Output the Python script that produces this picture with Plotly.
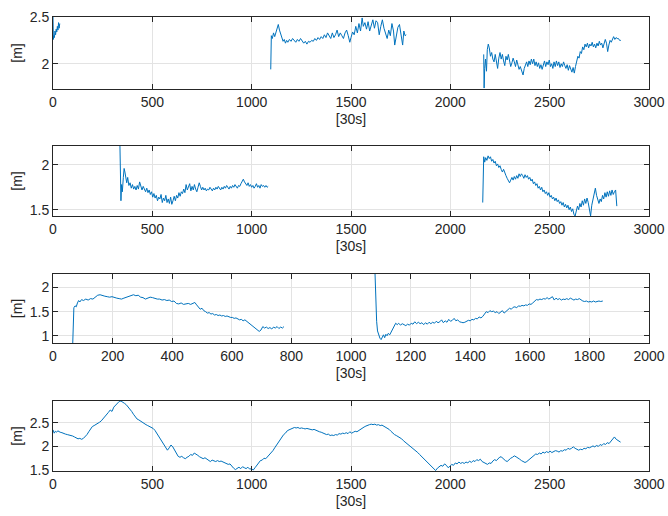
import plotly.graph_objects as go

# ---- subplot 1 (three segments, gaps as None)
s1_x = [0, 2, 4, 7, 10, 13, 16, 19, 22, 25, 28, 31, 34, 36,
        1096, 1099, 1104, 1110, 1116, 1122, 1128, 1134, 1140, 1146, 1152, 1158, 1164, 1170, 1176, 1182,
        1190, 1198, 1206, 1214, 1222, 1230, 1238, 1246, 1254, 1262, 1270, 1278, 1286, 1294, 1302, 1310,
        1318, 1326, 1334, 1342, 1350, 1358, 1366, 1374, 1382, 1390, 1398, 1406, 1414, 1422, 1430, 1438,
        1446, 1454, 1462, 1470, 1478, 1486, 1494, 1500, 1508, 1516, 1524, 1532, 1540, 1548, 1556, 1562,
        1570, 1578, 1586, 1594, 1602, 1610, 1618, 1626, 1634, 1642, 1650, 1658, 1666, 1674, 1682, 1690,
        1698, 1706, 1714, 1720, 1728, 1736, 1744, 1752, 1760, 1766, 1772, 1778, 1780,
        2168, 2170, 2173, 2177, 2182, 2186, 2191, 2196, 2202, 2208, 2214, 2220, 2226, 2232, 2238, 2244,
        2250, 2256, 2262, 2268, 2274, 2280, 2286, 2292, 2298, 2304, 2310, 2316, 2322, 2328, 2334, 2340,
        2346, 2352, 2358, 2366, 2372, 2378, 2384, 2390, 2396, 2402, 2408, 2414, 2420, 2426, 2432, 2438,
        2444, 2450, 2456, 2462, 2468, 2474, 2480, 2486, 2492, 2498, 2504, 2510, 2516, 2522, 2528, 2534,
        2540, 2546, 2552, 2558, 2564, 2570, 2576, 2582, 2588, 2594, 2600, 2606, 2612, 2618, 2624, 2630,
        2636, 2642, 2648, 2654, 2660, 2666, 2672, 2678, 2684, 2690, 2696, 2702, 2708, 2714, 2720, 2726,
        2732, 2738, 2744, 2750, 2756, 2762, 2768, 2774, 2780, 2786, 2792, 2798, 2804, 2810, 2816, 2822,
        2828, 2834, 2840, 2846, 2852, 2858]
s1_y = [2.50, 2.26, 2.30, 2.28, 2.35, 2.31, 2.37, 2.34, 2.40, 2.36, 2.44, 2.38, 2.43, None,
        1.94, 2.30, 2.27, 2.33, 2.29, 2.34, 2.38, 2.42, 2.36, 2.31, 2.27, 2.24, 2.26, 2.22, 2.25, 2.23,
        2.26, 2.24, 2.27, 2.25, 2.23, 2.26, 2.24, 2.27, 2.25, 2.22, 2.24, 2.21, 2.24, 2.23, 2.25, 2.24,
        2.27, 2.25, 2.28, 2.26, 2.29, 2.27, 2.31, 2.28, 2.33, 2.30, 2.27, 2.33, 2.28, 2.31, 2.36, 2.29,
        2.33, 2.30, 2.27, 2.33, 2.36, 2.30, 2.23, 2.28, 2.34, 2.31, 2.40, 2.33, 2.43, 2.35, 2.49, 2.40,
        2.44, 2.37, 2.45, 2.35, 2.42, 2.47, 2.38, 2.46, 2.44, 2.31, 2.40, 2.47, 2.38, 2.33, 2.27, 2.36,
        2.30, 2.43, 2.35, 2.20, 2.32, 2.39, 2.42, 2.28, 2.20, 2.35, 2.30, 2.31, None,
        2.10, 1.74, 1.95, 2.05, 1.92, 2.15, 2.21, 2.17, 2.08, 2.12, 2.05, 2.02, 2.10, 2.03, 1.95, 2.06,
        2.12, 2.05, 2.10, 2.03, 1.98, 2.08, 2.04, 2.10, 2.03, 1.97, 2.01, 2.06, 2.02, 1.97, 2.04, 2.00,
        1.94, 1.97, 1.92, 1.88, 1.95, 1.99, 2.02, 1.97, 2.03, 1.99, 2.05, 2.00, 2.05, 1.98, 2.02, 1.97,
        2.01, 1.95, 1.99, 1.94, 1.98, 2.03, 1.97, 2.02, 1.99, 2.04, 1.97, 2.00, 1.95, 2.02, 1.97, 2.03,
        1.98, 2.02, 1.96, 2.00, 1.97, 2.02, 1.98, 1.95, 1.99, 1.93, 1.98, 1.95, 1.91, 1.96, 1.90, 1.97,
        2.03, 2.08, 2.06, 2.13, 2.11, 2.18, 2.15, 2.21, 2.18, 2.22, 2.17, 2.21, 2.19, 2.23, 2.18, 2.21,
        2.17, 2.22, 2.19, 2.24, 2.20, 2.22, 2.17, 2.22, 2.26, 2.22, 2.13, 2.20, 2.25, 2.23, 2.27, 2.29,
        2.26, 2.28, 2.27, 2.27, 2.25, 2.25]

# ---- subplot 2
s2_x = [337, 339, 342, 345, 349, 354, 358, 362, 366, 371, 376, 382, 388, 394, 400, 406,
        412, 418, 424, 430, 436, 442, 448, 454, 460, 466, 472, 478, 484, 490, 496, 502,
        508, 514, 520, 526, 532, 538, 544, 550, 556, 562, 568, 574, 580, 586, 592, 598,
        604, 610, 616, 622, 628, 634, 640, 646, 652, 658, 664, 670, 676, 682, 688, 694,
        700, 706, 712, 718, 724, 730, 736, 742, 748, 754, 760, 766, 772, 778, 784, 790,
        796, 802, 808, 814, 820, 826, 832, 838, 844, 850, 856, 862, 868, 874, 880, 886,
        892, 898, 904, 910, 916, 922, 928, 934, 940, 946, 952, 958, 964, 970, 976, 982,
        988, 994, 1000, 1006, 1012, 1018, 1024, 1030, 1036, 1042, 1048, 1054, 1060, 1066, 1072, 1078,
        1083, 1085,
        2163, 2165, 2168, 2173, 2178, 2184, 2190, 2196, 2202, 2208, 2214, 2220, 2226, 2232, 2238, 2244,
        2250, 2256, 2262, 2268, 2274, 2280, 2286, 2292, 2298, 2304, 2310, 2316, 2322, 2328, 2334, 2340,
        2346, 2352, 2358, 2364, 2370, 2376, 2382, 2388, 2394, 2400, 2406, 2412, 2418, 2424, 2430, 2436,
        2442, 2448, 2454, 2460, 2466, 2472, 2478, 2484, 2490, 2496, 2502, 2508, 2514, 2520, 2526, 2532,
        2538, 2544, 2550, 2556, 2562, 2568, 2574, 2580, 2586, 2592, 2598, 2604, 2610, 2616, 2622, 2628,
        2634, 2640, 2646, 2652, 2658, 2664, 2670, 2676, 2682, 2688, 2694, 2700, 2706, 2712, 2718, 2724,
        2730, 2736, 2742, 2748, 2754, 2760, 2766, 2772, 2778, 2784, 2790, 2796, 2802, 2808, 2814, 2820,
        2826, 2832, 2838]
s2_y = [2.21, 1.62, 1.60, 1.78, 1.70, 1.86, 1.96, 1.92, 1.84, 1.80, 1.86, 1.77, 1.80, 1.74, 1.78, 1.73,
        1.76, 1.72, 1.77, 1.73, 1.81, 1.75, 1.72, 1.76, 1.73, 1.70, 1.74, 1.69, 1.72, 1.67, 1.70, 1.64,
        1.68, 1.63, 1.66, 1.60, 1.64, 1.62, 1.67, 1.58, 1.63, 1.60, 1.66, 1.58, 1.62, 1.57, 1.64, 1.56,
        1.60, 1.65, 1.60, 1.66, 1.63, 1.69, 1.65, 1.70, 1.68, 1.73, 1.69, 1.78, 1.72, 1.76, 1.79, 1.71,
        1.76, 1.72, 1.78, 1.73, 1.70, 1.75, 1.80, 1.76, 1.72, 1.75, 1.72, 1.74, 1.71, 1.73, 1.72, 1.75,
        1.73, 1.71, 1.74, 1.72, 1.75, 1.73, 1.76, 1.74, 1.72, 1.75, 1.73, 1.76, 1.74, 1.77, 1.75, 1.73,
        1.76, 1.74, 1.77, 1.75, 1.78, 1.76, 1.74, 1.77, 1.76, 1.79, 1.81, 1.84, 1.81, 1.79, 1.77, 1.80,
        1.76, 1.78, 1.75, 1.77, 1.74, 1.76, 1.79, 1.75, 1.77, 1.74, 1.78, 1.76, 1.77, 1.75, 1.77, 1.75,
        1.76, None,
        1.58, 2.00, 2.09, 2.03, 2.08, 2.05, 2.10, 2.07, 2.09, 2.04, 2.06, 2.02, 2.04, 1.99, 2.01, 1.97,
        1.99, 1.95, 1.92, 1.95, 1.90, 1.88, 1.85, 1.82, 1.80, 1.83, 1.86, 1.83, 1.87, 1.84, 1.88, 1.85,
        1.90, 1.87, 1.90, 1.88, 1.85, 1.89, 1.86, 1.88, 1.84, 1.86, 1.82, 1.84, 1.79, 1.81, 1.77, 1.79,
        1.74, 1.76, 1.72, 1.75, 1.70, 1.72, 1.68, 1.70, 1.66, 1.69, 1.64, 1.66, 1.62, 1.64, 1.60, 1.63,
        1.59, 1.61, 1.57, 1.59, 1.55, 1.58, 1.53, 1.56, 1.52, 1.55, 1.50, 1.53, 1.48, 1.51, 1.45, 1.43,
        1.49, 1.54, 1.50, 1.57, 1.53, 1.60, 1.55, 1.62, 1.57, 1.63, 1.58, 1.52, 1.43, 1.55, 1.62, 1.68,
        1.74, 1.66, 1.60, 1.57, 1.62, 1.59, 1.66, 1.62, 1.69, 1.64, 1.70, 1.65, 1.71, 1.66, 1.72, 1.67,
        1.70, 1.72, 1.54]

# ---- subplot 3
s3_x = [66, 68, 70, 74, 78, 82, 86, 90, 96, 102, 110, 118, 126, 134, 142, 150,
        158, 166, 174, 182, 190, 198, 206, 214, 222, 230, 238, 246, 254, 262, 270, 278,
        286, 294, 302, 310, 318, 326, 334, 342, 350, 358, 366, 374, 382, 390, 398, 406,
        414, 422, 430, 438, 446, 454, 462, 470, 476, 482, 488, 494, 500, 506, 512, 518,
        524, 530, 536, 542, 548, 554, 560, 566, 572, 578, 584, 590, 596, 602, 608, 614,
        620, 626, 632, 638, 644, 650, 656, 662, 668, 674, 680, 686, 692, 698, 704, 710,
        716, 722, 728, 734, 740, 746, 752, 758, 764, 770, 775, 777,
        1080, 1083, 1086, 1089, 1093, 1097, 1101, 1105, 1109, 1113, 1117, 1121, 1125, 1130, 1135, 1140,
        1145, 1150, 1155, 1160, 1166, 1172, 1178, 1184, 1190, 1196, 1202, 1208, 1214, 1220, 1226, 1232,
        1238, 1244, 1250, 1256, 1262, 1268, 1274, 1280, 1286, 1292, 1298, 1304, 1310, 1316, 1322, 1328,
        1334, 1340, 1346, 1352, 1358, 1364, 1370, 1376, 1382, 1388, 1394, 1400, 1406, 1412, 1418, 1424,
        1430, 1436, 1442, 1448, 1454, 1460, 1466, 1472, 1478, 1484, 1490, 1496, 1502, 1508, 1514, 1520,
        1526, 1532, 1538, 1544, 1550, 1556, 1562, 1568, 1574, 1580, 1586, 1592, 1598, 1604, 1610, 1616,
        1622, 1628, 1634, 1640, 1646, 1652, 1658, 1664, 1670, 1676, 1682, 1688, 1694, 1700, 1706, 1712,
        1718, 1724, 1730, 1736, 1742, 1748, 1754, 1760, 1766, 1772, 1778, 1784, 1790, 1796, 1802, 1808,
        1814, 1820, 1826, 1832, 1838, 1845]
s3_y = [0.80, 1.35, 1.58, 1.62, 1.60, 1.68, 1.73, 1.70, 1.75, 1.73, 1.76, 1.74, 1.77, 1.76, 1.80, 1.84,
        1.85, 1.83, 1.82, 1.81, 1.80, 1.81, 1.79, 1.78, 1.77, 1.76, 1.78, 1.80, 1.82, 1.84, 1.85, 1.83,
        1.84, 1.80, 1.79, 1.76, 1.78, 1.80, 1.79, 1.77, 1.76, 1.76, 1.74, 1.75, 1.73, 1.74, 1.71, 1.72,
        1.67, 1.66, 1.68, 1.65, 1.66, 1.67, 1.65, 1.68, 1.69, 1.64, 1.60, 1.55, 1.57, 1.52, 1.50, 1.47,
        1.48, 1.45, 1.46, 1.43, 1.44, 1.42, 1.43, 1.41, 1.42, 1.40, 1.41, 1.39, 1.38, 1.38, 1.36, 1.37,
        1.35, 1.33, 1.34, 1.31, 1.33, 1.30, 1.27, 1.24, 1.20, 1.18, 1.14, 1.12, 1.09, 1.12, 1.19, 1.16,
        1.18, 1.15, 1.17, 1.14, 1.18, 1.16, 1.19, 1.15, 1.18, 1.16, 1.19, None,
        2.40, 1.70, 1.30, 1.10, 1.02, 0.95, 0.92, 0.98, 1.02, 0.96, 1.03, 1.00, 1.05, 1.02, 1.08, 1.13,
        1.20, 1.26, 1.23, 1.26, 1.22, 1.25, 1.23, 1.21, 1.24, 1.22, 1.26, 1.24, 1.29, 1.25, 1.28, 1.25,
        1.27, 1.23, 1.27, 1.24, 1.28, 1.25, 1.28, 1.26, 1.30, 1.27, 1.29, 1.33, 1.27, 1.31, 1.28, 1.34,
        1.30, 1.32, 1.36, 1.31, 1.33, 1.29, 1.28, 1.27, 1.28, 1.30, 1.32, 1.31, 1.34, 1.33, 1.36, 1.35,
        1.39, 1.37, 1.40, 1.45, 1.50, 1.48, 1.52, 1.50, 1.51, 1.48, 1.50, 1.46, 1.49, 1.52, 1.47, 1.51,
        1.54, 1.57, 1.55, 1.59, 1.60, 1.58, 1.62, 1.61, 1.63, 1.62, 1.64, 1.63, 1.66, 1.65, 1.68, 1.72,
        1.75, 1.74, 1.76, 1.75, 1.77, 1.76, 1.79, 1.76, 1.78, 1.81, 1.74, 1.78, 1.75, 1.77, 1.74, 1.76,
        1.75, 1.77, 1.75, 1.78, 1.76, 1.74, 1.76, 1.75, 1.77, 1.74, 1.72, 1.71, 1.72, 1.70, 1.71, 1.70,
        1.72, 1.70, 1.71, 1.72, 1.71, 1.72]

# ---- subplot 4 (one continuous series)
s4_x = [0, 6, 12, 18, 24, 30, 36, 45, 54, 63, 72, 81, 90, 99, 108, 117,
        126, 135, 144, 153, 162, 171, 180, 189, 198, 207, 216, 225, 234, 243, 252, 261,
        270, 279, 288, 297, 306, 315, 324, 333, 342, 351, 360, 369, 378, 387, 396, 405,
        414, 423, 432, 441, 450, 459, 468, 477, 486, 495, 504, 513, 522, 531, 540, 549,
        558, 567, 576, 585, 594, 603, 612, 621, 630, 639, 648, 657, 666, 675, 684, 693,
        702, 711, 720, 729, 738, 747, 756, 765, 774, 783, 792, 801, 810, 819, 828, 837,
        846, 855, 864, 873, 882, 891, 900, 909, 918, 927, 936, 945, 954, 963, 972, 981,
        990, 999, 1008, 1017, 1026, 1035, 1044, 1053, 1062, 1071, 1080, 1089, 1098, 1107, 1116, 1125,
        1134, 1143, 1152, 1161, 1170, 1179, 1188, 1197, 1206, 1215, 1224, 1233, 1242, 1251, 1260, 1269,
        1278, 1287, 1296, 1305, 1314, 1323, 1332, 1341, 1350, 1359, 1368, 1377, 1386, 1395, 1404, 1413,
        1422, 1431, 1440, 1449, 1458, 1467, 1476, 1485, 1494, 1503, 1512, 1521, 1530, 1539, 1548, 1557,
        1566, 1575, 1584, 1593, 1602, 1611, 1620, 1629, 1638, 1647, 1656, 1665, 1674, 1683, 1692, 1701,
        1710, 1719, 1728, 1737, 1746, 1755, 1764, 1773, 1782, 1791, 1800, 1809, 1818, 1827, 1836, 1845,
        1854, 1863, 1872, 1881, 1890, 1899, 1908, 1917, 1926, 1935, 1944, 1953, 1962, 1971, 1980, 1989,
        1998, 2007, 2016, 2025, 2034, 2043, 2052, 2061, 2070, 2079, 2088, 2097, 2106, 2115, 2124, 2133,
        2142, 2151, 2160, 2169, 2178, 2187, 2196, 2205, 2214, 2223, 2232, 2241, 2250, 2259, 2268, 2277,
        2286, 2295, 2304, 2313, 2322, 2331, 2340, 2349, 2358, 2367, 2376, 2385, 2394, 2403, 2412, 2421,
        2430, 2439, 2448, 2457, 2466, 2475, 2484, 2493, 2502, 2511, 2520, 2529, 2538, 2547, 2556, 2565,
        2574, 2583, 2592, 2601, 2610, 2619, 2628, 2637, 2646, 2655, 2664, 2673, 2682, 2691, 2700, 2709,
        2718, 2727, 2736, 2745, 2754, 2763, 2772, 2781, 2790, 2799, 2808, 2817, 2826, 2835, 2844, 2853,
        2857]
s4_y = [2.35, 2.28, 2.32, 2.30, 2.33, 2.31, 2.30, 2.29, 2.27, 2.26, 2.25, 2.24, 2.24, 2.22, 2.20, 2.18,
        2.16, 2.17, 2.15, 2.17, 2.20, 2.25, 2.31, 2.36, 2.42, 2.44, 2.46, 2.49, 2.51, 2.54, 2.58, 2.62,
        2.66, 2.72, 2.77, 2.74, 2.83, 2.87, 2.93, 2.95, 2.96, 2.94, 2.91, 2.88, 2.84, 2.80, 2.74, 2.68,
        2.63, 2.58, 2.56, 2.53, 2.50, 2.47, 2.46, 2.44, 2.42, 2.40, 2.38, 2.34, 2.28, 2.22, 2.17, 2.11,
        2.04, 1.96, 1.92, 1.97, 2.03, 1.99, 1.92, 1.84, 1.79, 1.77, 1.79, 1.76, 1.74, 1.77, 1.79, 1.83,
        1.81, 1.86, 1.84, 1.81, 1.78, 1.76, 1.74, 1.76, 1.73, 1.70, 1.68, 1.71, 1.69, 1.68, 1.70, 1.68,
        1.69, 1.67, 1.66, 1.64, 1.62, 1.63, 1.58, 1.54, 1.51, 1.54, 1.56, 1.53, 1.57, 1.55, 1.53, 1.56,
        1.52, 1.53, 1.50, 1.55, 1.60, 1.65, 1.70, 1.71, 1.75, 1.74, 1.78, 1.83, 1.88, 1.91, 1.97, 2.03,
        2.08, 2.14, 2.19, 2.25, 2.28, 2.33, 2.35, 2.37, 2.38, 2.40, 2.39, 2.40, 2.38, 2.39, 2.38, 2.37,
        2.38, 2.37, 2.36, 2.35, 2.36, 2.34, 2.33, 2.31, 2.30, 2.28, 2.27, 2.25, 2.26, 2.23, 2.24, 2.23,
        2.25, 2.24, 2.27, 2.26, 2.28, 2.27, 2.29, 2.27, 2.31, 2.28, 2.30, 2.32, 2.31, 2.34, 2.37, 2.39,
        2.41, 2.43, 2.45, 2.46, 2.47, 2.46, 2.47, 2.45, 2.46, 2.44, 2.45, 2.43, 2.40, 2.39, 2.36, 2.32,
        2.28, 2.25, 2.23, 2.21, 2.18, 2.16, 2.12, 2.09, 2.06, 2.03, 2.00, 1.97, 1.94, 1.91, 1.87, 1.83,
        1.79, 1.76, 1.73, 1.69, 1.65, 1.61, 1.56, 1.51, 1.49, 1.54, 1.57, 1.60, 1.58, 1.63, 1.60, 1.55,
        1.58, 1.62, 1.60, 1.65, 1.63, 1.67, 1.64, 1.66, 1.64, 1.67, 1.65, 1.69, 1.66, 1.70, 1.68, 1.72,
        1.70, 1.73, 1.68, 1.66, 1.63, 1.62, 1.65, 1.64, 1.69, 1.72, 1.70, 1.75, 1.78, 1.77, 1.73, 1.70,
        1.68, 1.72, 1.75, 1.77, 1.80, 1.78, 1.76, 1.73, 1.70, 1.68, 1.66, 1.68, 1.71, 1.74, 1.78, 1.81,
        1.84, 1.83, 1.86, 1.84, 1.88, 1.86, 1.89, 1.87, 1.90, 1.87, 1.89, 1.91, 1.90, 1.88, 1.91, 1.90,
        1.93, 1.92, 1.96, 1.94, 1.96, 1.99, 1.96, 1.94, 1.92, 1.94, 1.93, 1.96, 1.95, 1.98, 1.97, 1.99,
        2.01, 1.99, 2.02, 2.00, 2.04, 2.02, 2.06, 2.04, 2.08, 2.06, 2.10, 2.15, 2.20, 2.15, 2.13, 2.10,
        2.09]

x_ticks_3000 = [0, 500, 1000, 1500, 2000, 2500, 3000]
x_ticks_2000 = [0, 200, 400, 600, 800, 1000, 1200, 1400, 1600, 1800, 2000]

LINE = '#0072BD'
AX = '#262626'
FONT = dict(family='Liberation Sans, Arial, sans-serif', size=14, color=AX)

W, H = 668, 516
# plot boxes in pixels: (left, right, top, bottom)
boxes = [(53, 649, 17, 89), (53, 649, 146, 216), (53, 649, 274, 343), (53, 649, 401, 471)]
x_ranges = [[0, 3000], [0, 3000], [0, 2000], [0, 3000]]
y_ranges = [[1.73, 2.5], [1.43, 2.21], [0.85, 2.28], [1.48, 2.96]]
y_ticks = [[2, 2.5], [1.5, 2], [1, 1.5, 2], [1.5, 2, 2.5]]
x_ticks = [x_ticks_3000, x_ticks_3000, x_ticks_2000, x_ticks_3000]

fig = go.Figure()
series = [(s1_x, s1_y), (s2_x, s2_y), (s3_x, s3_y), (s4_x, s4_y)]
for i, (xs, ys) in enumerate(series):
    n = '' if i == 0 else str(i + 1)
    fig.add_trace(go.Scatter(x=xs, y=ys, mode='lines', line=dict(color=LINE, width=1),
                             connectgaps=False, xaxis='x' + n, yaxis='y' + n, showlegend=False))

layout = dict(width=W, height=H, margin=dict(l=0, r=0, t=0, b=0),
              paper_bgcolor='white', plot_bgcolor='white', font=FONT)
common = dict(showline=True, linecolor=AX, linewidth=1, mirror='ticks', ticks='inside',
              ticklen=5, tickcolor=AX, showgrid=True, gridcolor='#e3e3e3', zeroline=False,
              automargin=False, tickfont=FONT)
for i, (l, r, t, b) in enumerate(boxes):
    n = '' if i == 0 else str(i + 1)
    layout['xaxis' + n] = dict(common, domain=[l / W, r / W], anchor='y' + n,
                               range=x_ranges[i], tickvals=x_ticks[i],
                               title=dict(text='[30s]', font=FONT, standoff=5))
    layout['yaxis' + n] = dict(common, domain=[1 - b / H, 1 - t / H], anchor='x' + n,
                               range=y_ranges[i], tickvals=y_ticks[i],
                               title=dict(text='[m]', font=FONT, standoff=3))
fig.update_layout(**layout)

# page body margin removed so the figure sits at the window's top-left corner
fig.write_html("out.html", config={'displayModeBar': False},
               post_script="document.body.style.margin='0';")
